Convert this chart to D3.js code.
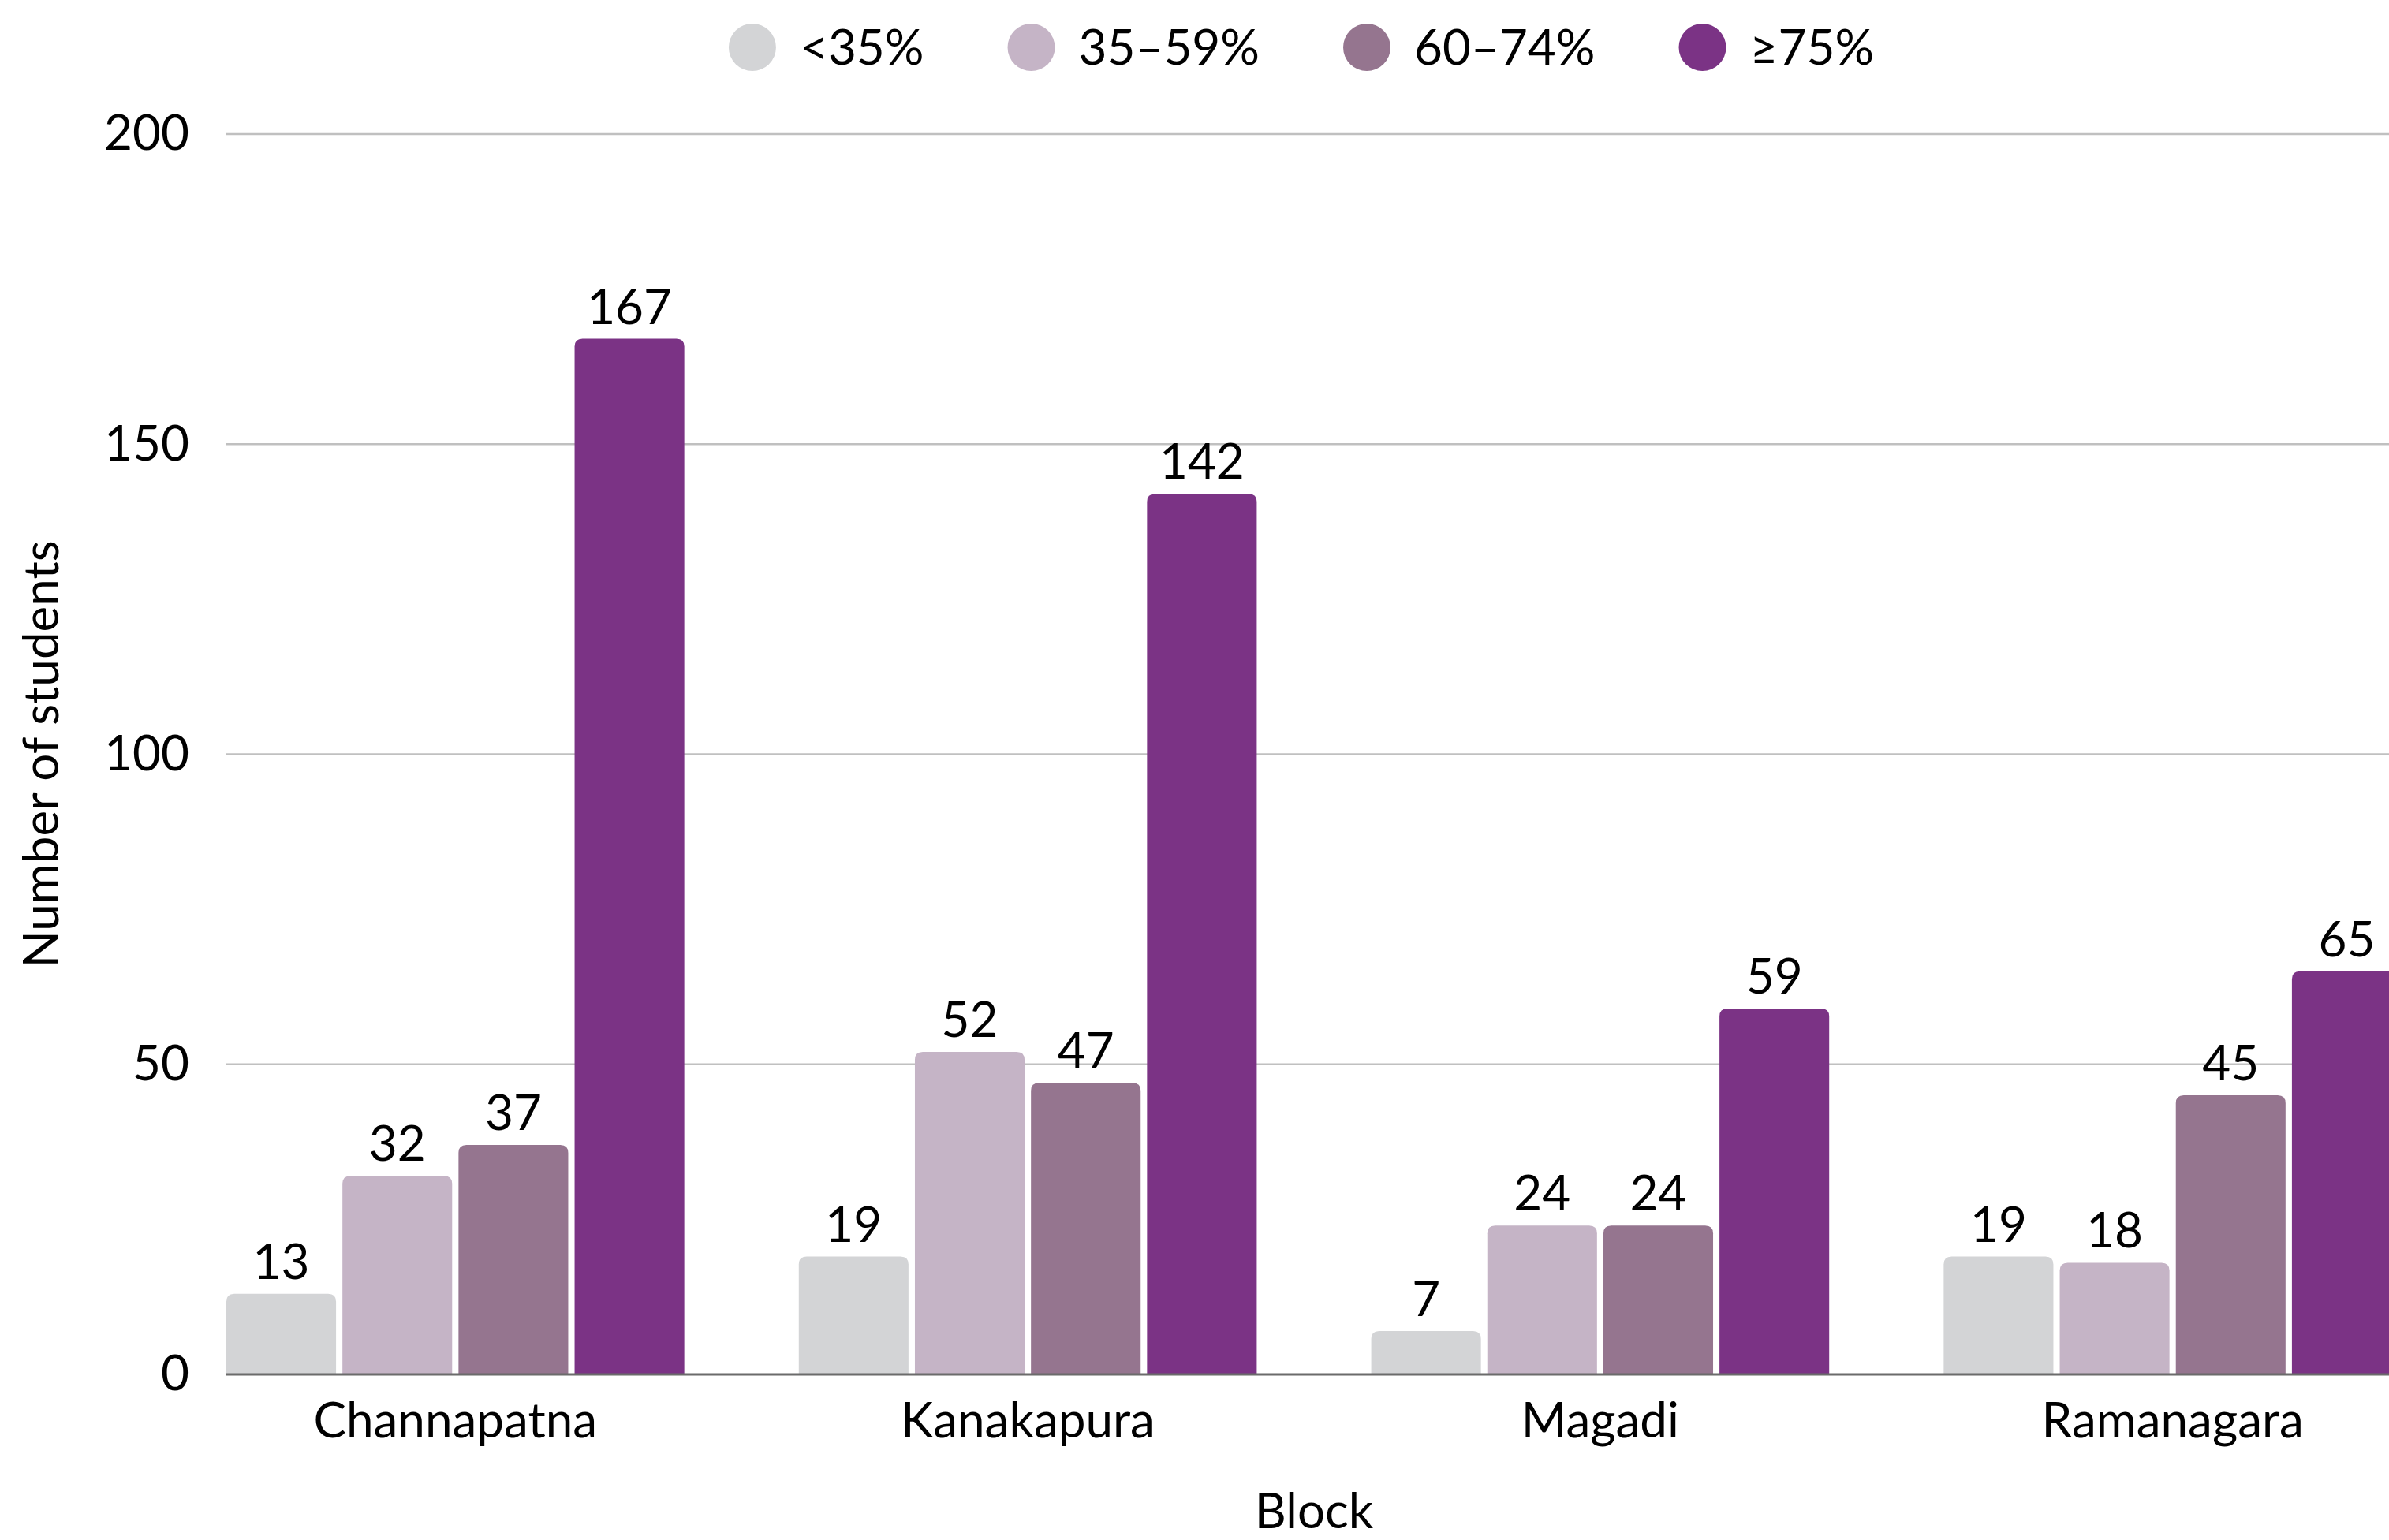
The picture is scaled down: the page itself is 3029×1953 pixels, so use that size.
<!DOCTYPE html>
<html>
<head>
<meta charset="utf-8">
<title>Number of students by block</title>
<script src="https://cdn.jsdelivr.net/npm/d3@7"></script>
<style>
body { margin: 0; background: #fff; }
svg text { font-family: Lato, "Noto Sans", sans-serif; fill: #000; }
</style>
</head>
<body>
<div id="chart"></div>
<script>
// data
var blocks = ['Channapatna', 'Kanakapura', 'Magadi', 'Ramanagara'];
var bands = ['<35%', '35\u201359%', '60\u201374%', '\u226575%'];
var lt35 = [13, 19, 7, 19];
var from35to59 = [32, 52, 24, 18];
var from60to74 = [37, 47, 24, 45];
var ge75 = [167, 142, 59, 65];
var yTicks = [0, 50, 100, 150, 200];
var colours = ['#d3d4d6', '#c5b4c6', '#95758f', '#7b3385'];

var series = [lt35, from35to59, from60to74, ge75];
var rows = blocks.map(function(b, i){
  return { block: b, vals: series.map(function(s){ return s[i]; }) };
});

var W = 3029, H = 1953;
var plotLeft = 287, plotTop = 170, plotBottom = 1743, plotRight = 3045;
var fs = 62;

var svg = d3.select('#chart').append('svg')
  .attr('width', W)
  .attr('height', H);

var x0 = d3.scaleBand().domain(blocks).range([plotLeft, plotRight]).paddingInner(0.2).paddingOuter(0);
var x1 = d3.scaleBand().domain(d3.range(bands.length)).range([0, x0.bandwidth()]).paddingInner(0.055);
var y = d3.scaleLinear().domain([0, 200]).range([plotBottom, plotTop]);

// grid
svg.append('g')
  .selectAll('line')
  .data(yTicks.filter(function(t){ return t > 0; }))
  .join('line')
  .attr('x1', plotLeft).attr('x2', W)
  .attr('y1', function(d){ return y(d); })
  .attr('y2', function(d){ return y(d); })
  .attr('stroke', '#c0c0c0')
  .attr('stroke-width', 2.5);

// y axis labels
var yAxis = d3.axisLeft(y).tickValues(yTicks).tickSize(0).tickPadding(47);
svg.append('g')
  .attr('transform', 'translate(' + plotLeft + ',0)')
  .call(yAxis)
  .call(function(g){ g.select('.domain').remove(); })
  .selectAll('text')
  .attr('font-size', fs)
  .attr('font-family', 'Lato, sans-serif')
  .attr('fill', '#000');

// rounded-top bar path
function barPath(x, yt, w, h, r){
  r = Math.min(r, h, w / 2);
  return 'M' + x + ',' + (yt + h) +
    'V' + (yt + r) +
    'Q' + x + ',' + yt + ' ' + (x + r) + ',' + yt +
    'H' + (x + w - r) +
    'Q' + (x + w) + ',' + yt + ' ' + (x + w) + ',' + (yt + r) +
    'V' + (yt + h) + 'Z';
}

var groups = svg.append('g')
  .selectAll('g')
  .data(rows)
  .join('g')
  .attr('transform', function(d){ return 'translate(' + x0(d.block) + ',0)'; });

groups.selectAll('path')
  .data(function(d){ return d.vals; })
  .join('path')
  .attr('d', function(v, i){
    return barPath(x1(i), y(v), x1.bandwidth(), y(0) - y(v), 10);
  })
  .attr('fill', function(v, i){ return colours[i]; });

groups.selectAll('text')
  .data(function(d){ return d.vals; })
  .join('text')
  .attr('x', function(v, i){ return x1(i) + x1.bandwidth() / 2; })
  .attr('y', function(v){ return y(v) - 19; })
  .attr('text-anchor', 'middle')
  .attr('font-size', fs)
  .text(function(v){ return v; });

// baseline
svg.append('line')
  .attr('x1', plotLeft).attr('x2', W)
  .attr('y1', y(0)).attr('y2', y(0))
  .attr('stroke', '#6b6b6b')
  .attr('stroke-width', 3);

// x axis labels
var xAxis = d3.axisBottom(x0).tickSize(0).tickPadding(36);
svg.append('g')
  .attr('transform', 'translate(0,' + plotBottom + ')')
  .call(xAxis)
  .call(function(g){ g.select('.domain').remove(); })
  .selectAll('text')
  .attr('font-size', fs)
  .attr('font-family', 'Lato, sans-serif')
  .attr('fill', '#000');

// axis titles
svg.append('text')
  .attr('x', (plotLeft + plotRight) / 2)
  .attr('y', 1938)
  .attr('text-anchor', 'middle')
  .attr('font-size', fs)
  .text('Block');

svg.append('text')
  .attr('transform', 'translate(74,' + ((plotTop + plotBottom) / 2) + ') rotate(-90)')
  .attr('text-anchor', 'middle')
  .attr('font-size', fs)
  .text('Number of students');

// legend
var legend = svg.append('g');
var items = legend.selectAll('g')
  .data(bands)
  .join('g');
items.append('circle')
  .attr('r', 30)
  .attr('cx', 30)
  .attr('cy', 60)
  .attr('fill', function(d, i){ return colours[i]; });
items.append('text')
  .attr('x', 90)
  .attr('y', 60)
  .attr('dy', '0.36em')
  .attr('font-size', fs)
  .text(function(d){ return d; });

var gap = 106;
var xpos = 0;
items.each(function(){
  var w = this.getBBox().width;
  d3.select(this).attr('transform', 'translate(' + xpos + ',0)');
  xpos += w + gap;
});
var total = xpos - gap;
legend.attr('transform', 'translate(' + (1650 - total / 2) + ',0)');
</script>
</body>
</html>
